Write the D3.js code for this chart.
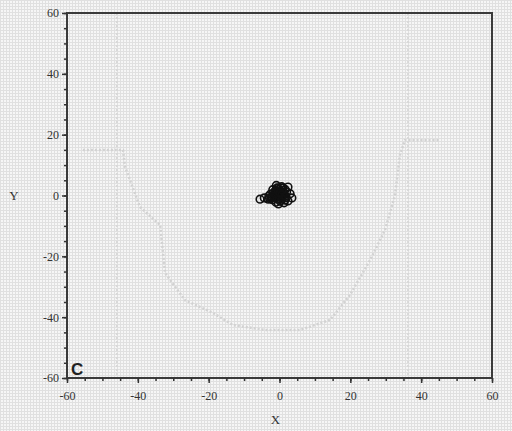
<!DOCTYPE html>
<html>
<head>
<meta charset="utf-8">
<script src="https://cdn.jsdelivr.net/npm/d3@7"></script>
<style>
  body { margin: 0; background: #fff; }
  svg { display: block; }
</style>
</head>
<body>
<script>
// tick values shown on both axes
var majorTicks = [-60, -40, -20, 0, 20, 40, 60];
var minorTicks = d3.range(-60, 61, 5);

// scatter points (x, y)
var ptsX = [-5.5, -3.2, -4.3, -2.4, -1.8, -1.2, -0.7, -0.2, 0.4, 1.0, 1.6, 2.4, 2.4, 3.5, 3.0,
            -2.0, -1.0, 0.0, 0.8, 1.5, -1.5, -0.5, 0.5, 1.9, -2.6, -1.3, 0.2, 1.2, -0.8, 0.6,
            -1.9, -0.3, 2.0, -3.0, 1.3, -0.9, -1.6, -0.6, 0.3, 1.0, -1.1, -0.1, 0.9, -2.2,
            -0.4, 0.7, -1.4, 0.1, 1.7, -2.8];
var ptsY = [-1.2, -1.2, -0.8, -0.5, 0.8, 1.6, 2.5, 2.0, 1.4, 2.5, 2.0, 2.8, -1.8, -0.8, 0.6,
            -1.4, -2.2, -1.0, -0.3, -1.5, 0.2, 0.9, 0.3, -0.7, 0.4, -0.6, -1.9, 0.9, 1.1, 2.9,
            1.9, -2.8, 1.2, -0.2, -2.4, 3.3, -0.1, 0.5, -0.5, 0.1, 1.2, -1.3, 1.7, -0.9,
            2.4, -1.1, 0.6, 0.8, -0.2, -1.0];

// faint ghost trace visible behind the plot
var ghostX = [-55.5, -44.2, -43.6, -39.4, -33.7, -32.3, -26.7, -18.8, -13.1, -4.1, 5.8, 14.3, 19.9, 25.6, 29.8, 32.6, 34.0, 35.4, 45.3];
var ghostY = [15, 15, 9.4, -3.8, -9.7, -25.5, -34.4, -38.6, -42.6, -44.2, -44.2, -40.9, -32.7, -21.2, -11.3, 0, 13.3, 18.2, 18.2];
var ghostV = [-45.9, 36.3];

var w = 512, h = 431;
var mLeft = 67, mRight = 492, mTop = 13, mBottom = 378;

var svg = d3.select("body").append("svg")
    .attr("width", w).attr("height", h);

// dithered grey background
var defs = svg.append("defs");
var pat = defs.append("pattern").attr("id", "dith")
    .attr("width", 3).attr("height", 3).attr("patternUnits", "userSpaceOnUse");
pat.append("rect").attr("width", 3).attr("height", 3).attr("fill", "#f6f6f6");
pat.append("rect").attr("width", 3).attr("height", 1).attr("fill", "#e0e0e0");
pat.append("rect").attr("width", 1).attr("height", 3).attr("fill", "#e0e0e0");
svg.append("rect").attr("width", w).attr("height", h).attr("fill", "url(#dith)");

var x = d3.scaleLinear().domain([-60, 60]).range([mLeft, mRight]);
var y = d3.scaleLinear().domain([-60, 60]).range([mBottom, mTop]);

// ghost trace
svg.append("path")
    .datum(d3.range(ghostX.length))
    .attr("fill", "none").attr("stroke", "#d2d2d2").attr("stroke-width", 2.5)
    .attr("stroke-dasharray", "2,2")
    .attr("d", d3.line().x(function(i) { return x(ghostX[i]) }).y(function(i) { return y(ghostY[i]) }));
svg.selectAll(".gv").data(ghostV).enter().append("line")
    .attr("x1", function(d) { return x(d) }).attr("x2", function(d) { return x(d) })
    .attr("y1", mTop).attr("y2", mBottom)
    .attr("stroke", "#d8d8d8").attr("stroke-width", 2)
    .attr("stroke-dasharray", "2,2");

// frame
svg.append("rect")
    .attr("x", mLeft).attr("y", mTop)
    .attr("width", mRight - mLeft).attr("height", mBottom - mTop)
    .attr("fill", "none").attr("stroke", "#3a3a3a").attr("stroke-width", 2);

// axes: minor ticks, then major ticks with labels
var fmt = function(d) { return String(d) };
var xMinor = d3.axisBottom(x).tickValues(minorTicks).tickSize(3).tickFormat("");
var yMinor = d3.axisLeft(y).tickValues(minorTicks).tickSize(3).tickFormat("");
var xMajor = d3.axisBottom(x).tickValues(majorTicks).tickSize(5).tickPadding(8).tickFormat(fmt);
var yMajor = d3.axisLeft(y).tickValues(majorTicks).tickSize(5).tickPadding(3).tickFormat(fmt);

[svg.append("g").attr("transform", "translate(0," + mBottom + ")").call(xMinor),
 svg.append("g").attr("transform", "translate(0," + mBottom + ")").call(xMajor),
 svg.append("g").attr("transform", "translate(" + mLeft + ",0)").call(yMinor),
 svg.append("g").attr("transform", "translate(" + mLeft + ",0)").call(yMajor)
].forEach(function(g) {
  g.select(".domain").remove();
  g.selectAll("line").attr("stroke", "#333").attr("stroke-width", 1.5);
  g.selectAll("text")
    .attr("fill", "#333")
    .style("font-family", "'Liberation Serif', 'DejaVu Serif', serif")
    .style("font-size", "12px");
});

// axis titles
svg.append("text").attr("x", x(0) - 4).attr("y", 424)
    .attr("text-anchor", "middle")
    .style("font-family", "'Liberation Serif', serif").style("font-size", "13px")
    .attr("fill", "#333").text("X");
svg.append("text").attr("x", 14).attr("y", 200)
    .attr("text-anchor", "middle")
    .style("font-family", "'Liberation Serif', serif").style("font-size", "13px")
    .attr("fill", "#333").text("Y");

// panel letter
svg.append("text").attr("x", mLeft + 4).attr("y", mBottom - 3)
    .style("font-family", "'Liberation Sans', Arial, sans-serif")
    .style("font-size", "17px").style("font-weight", "bold")
    .attr("fill", "#222").text("C");

// scatter
svg.selectAll(".pt").data(d3.range(ptsX.length)).enter().append("circle")
    .attr("cx", function(i) { return x(ptsX[i]) })
    .attr("cy", function(i) { return y(ptsY[i]) })
    .attr("r", 3.8)
    .attr("fill", "none")
    .attr("stroke", "#111")
    .attr("stroke-width", 1.6);
</script>
</body>
</html>
